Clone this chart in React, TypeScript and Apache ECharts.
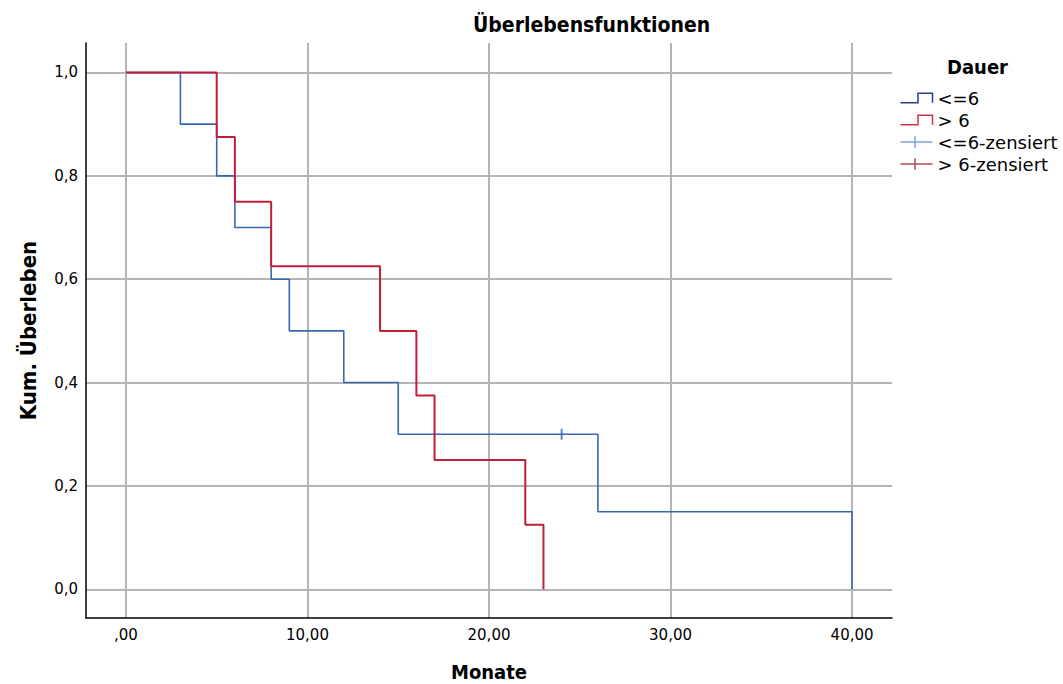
import React, { useEffect, useRef } from "react";
import * as echarts from "echarts";

const chartTitle = "Überlebensfunktionen";
const legendTitle = "Dauer";
const xAxisName = "Monate";
const yAxisName = "Kum. Überleben";

const groupShortTimes = [0, 3, 5, 6, 8, 9, 12, 15, 26, 40];
const groupShortSurvival = [1, 0.9, 0.8, 0.7, 0.6, 0.5, 0.4, 0.3, 0.15, 0];
const groupShortCensoredTimes = [24];
const groupShortCensoredSurvival = [0.3];

const groupLongTimes = [0, 5, 6, 8, 14, 16, 17, 22, 23];
const groupLongSurvival = [1, 0.875, 0.75, 0.625, 0.5, 0.375, 0.25, 0.125, 0];
const groupLongCensoredTimes: number[] = [];
const groupLongCensoredSurvival: number[] = [];

const seriesNames = ["<=6", "> 6", "<=6-zensiert", "> 6-zensiert"];
const xTicks = [0, 10, 20, 30, 40];
const yTicks = [0, 0.2, 0.4, 0.6, 0.8, 1.0];

const FONT = "DejaVu Sans";
const BOLD_FONT = "DejaVu Sans Condensed";

const zip = (a: number[], b: number[]) => a.map((v, i) => [v, b[i]]);

export default function App() {
  const ref = useRef<HTMLDivElement>(null);
  useEffect(() => {
    if (!ref.current) return;
    const chart = echarts.init(ref.current, undefined, { renderer: "svg" });
    const stepIcon = "path://M0,10 L18,10 L18,0 L33,0 L33,10";
    const crossIcon = "path://M0,6 L33,6 M15,0 L15,12";
    chart.setOption({
      animation: false,
      backgroundColor: "#ffffff",
      title: [
        {
          text: chartTitle,
          left: 468,
          top: 9,
          textStyle: { fontFamily: BOLD_FONT, fontWeight: "bold", fontSize: 21, color: "#000" },
        },
        {
          text: legendTitle,
          left: 942,
          top: 52,
          textStyle: { fontFamily: BOLD_FONT, fontWeight: "bold", fontSize: 20, color: "#000" },
        },
      ],
      legend: {
        orient: "vertical",
        left: 893,
        top: 84,
        itemWidth: 32,
        itemHeight: 13,
        itemGap: 4,
        textStyle: { fontFamily: FONT, fontSize: 18, color: "#000", lineHeight: 18 },
        data: [
          { name: seriesNames[0], icon: stepIcon, itemStyle: { color: "none", borderColor: "#2B3C8A", borderWidth: 1.5 } },
          { name: seriesNames[1], icon: stepIcon, itemStyle: { color: "none", borderColor: "#D2304A", borderWidth: 1.5 } },
          { name: seriesNames[2], icon: crossIcon, itemStyle: { color: "none", borderColor: "#5B8CC8", borderWidth: 1.5 } },
          { name: seriesNames[3], icon: crossIcon, itemStyle: { color: "none", borderColor: "#9A1C30", borderWidth: 1.5 } },
        ],
      },
      grid: { left: 86, right: 171, top: 43, bottom: 66, containLabel: false, outerBoundsMode: "none" },
      xAxis: {
        type: "value",
        min: -2.2,
        max: 42.2,
        name: xAxisName,
        nameLocation: "middle",
        nameGap: 44,
        nameTextStyle: { fontFamily: BOLD_FONT, fontWeight: "bold", fontSize: 20, color: "#000" },
        axisLine: { show: true, onZero: false, lineStyle: { color: "#000", width: 1.5 } },
        axisTick: { show: false, customValues: xTicks },
        axisLabel: {
          customValues: xTicks,
          margin: 9,
          fontFamily: FONT,
          fontSize: 15,
          color: "#000",
          formatter: (v: number) => (v === 0 ? ",00" : v.toFixed(2).replace(".", ",")),
        },
        splitLine: { show: true, lineStyle: { color: "#b5b5b5", width: 2 } },
      },
      yAxis: {
        type: "value",
        min: -0.0555,
        max: 1.057,
        name: yAxisName,
        nameLocation: "middle",
        nameGap: 47,
        nameRotate: 90,
        nameTextStyle: { fontFamily: BOLD_FONT, fontWeight: "bold", fontSize: 22, color: "#000" },
        axisLine: { show: true, onZero: false, lineStyle: { color: "#000", width: 1.5 } },
        axisTick: { show: false, customValues: yTicks },
        axisLabel: {
          customValues: yTicks,
          margin: 8,
          fontFamily: FONT,
          fontSize: 15,
          color: "#000",
          formatter: (v: number) => v.toFixed(1).replace(".", ","),
        },
        splitLine: { show: true, lineStyle: { color: "#b5b5b5", width: 2 } },
      },
      series: [
        {
          name: seriesNames[0],
          type: "line",
          step: "end",
          symbol: "none",
          data: zip(groupShortTimes, groupShortSurvival),
          lineStyle: { color: "#3868B0", width: 1.6 },
          itemStyle: { color: "#3868B0" },
          z: 3,
        },
        {
          name: seriesNames[1],
          type: "line",
          step: "end",
          symbol: "none",
          data: zip(groupLongTimes, groupLongSurvival),
          lineStyle: { color: "#BE1E3A", width: 2 },
          itemStyle: { color: "#BE1E3A" },
          z: 4,
        },
        {
          name: seriesNames[2],
          type: "scatter",
          symbol: "rect",
          symbolSize: [2, 11],
          data: zip(groupShortCensoredTimes, groupShortCensoredSurvival),
          itemStyle: { color: "#3868B0" },
          z: 5,
        },
        {
          name: seriesNames[3],
          type: "scatter",
          symbol: "rect",
          symbolSize: [2, 11],
          data: zip(groupLongCensoredTimes, groupLongCensoredSurvival),
          itemStyle: { color: "#9A1C30" },
          z: 5,
        },
      ],
    });
    return () => chart.dispose();
  }, []);
  return <div ref={ref} style={{ position: "absolute", left: 0, top: 0, width: 1063, height: 684 }} />;
}
